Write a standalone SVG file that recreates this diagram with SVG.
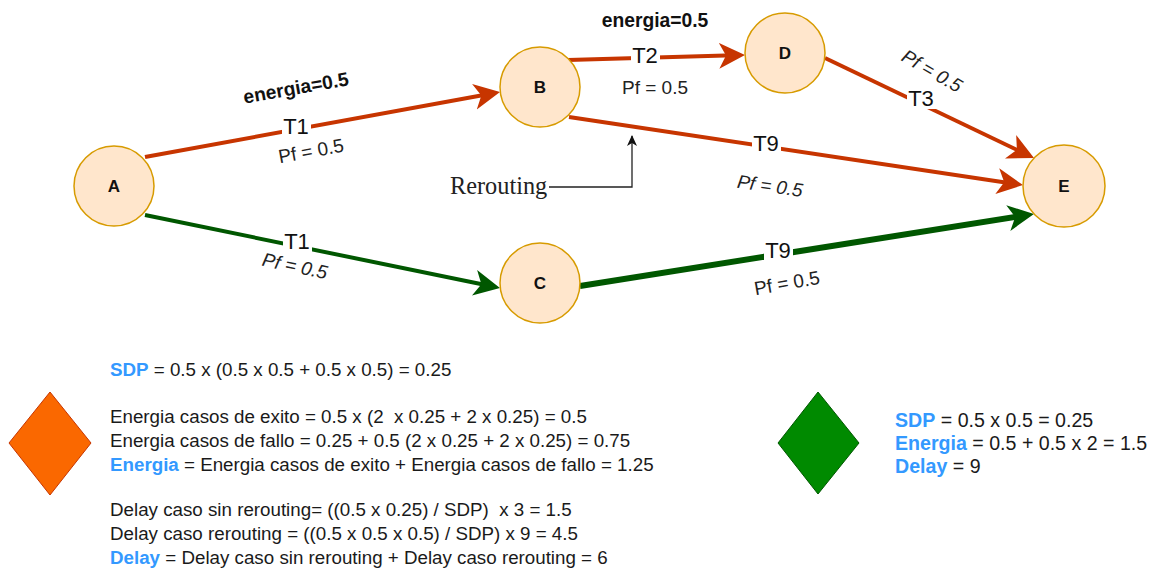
<svg xmlns="http://www.w3.org/2000/svg" width="1149" height="568" viewBox="0 0 1149 568">
<style>
.node{fill:#ffe6cc;stroke:#d79b00;stroke-width:1.5}
.nl{font-family:"Liberation Sans",Arial,sans-serif;font-weight:bold;font-size:17px;fill:#111;text-anchor:middle;dominant-baseline:central}
.red{fill:none;stroke:#c73500;stroke-width:4}
.grn{fill:none;stroke:#005700;stroke-width:4}
.grn2{fill:none;stroke:#005700;stroke-width:6}
.tl{font-family:"Liberation Sans",Arial,sans-serif;font-size:22px;fill:#111;text-anchor:middle;dominant-baseline:central}
.pf{font-family:"Liberation Sans",Arial,sans-serif;font-size:19px;fill:#222;text-anchor:middle;dominant-baseline:central}
.it{font-style:italic}
.en{font-family:"Liberation Sans",Arial,sans-serif;font-size:19.3px;font-weight:bold;fill:#111;text-anchor:middle;dominant-baseline:central}
.bt{font-family:"Liberation Sans",Arial,sans-serif;font-size:18.75px;fill:#1a1a1a;white-space:pre}
.bt2{font-family:"Liberation Sans",Arial,sans-serif;font-size:19.6px;fill:#1a1a1a;white-space:pre}
.bl{fill:#3399ff;font-weight:bold}
.bg{fill:#fff}
</style>
<defs>
<marker id="ar" markerUnits="userSpaceOnUse" markerWidth="27" markerHeight="28" viewBox="0 0 27 28" refX="15" refY="14" orient="auto">
<path d="M0,1 L26,14 L0,27 L7,14 Z" fill="#c73500"/>
</marker>
<marker id="ag" markerUnits="userSpaceOnUse" markerWidth="27" markerHeight="28" viewBox="0 0 27 28" refX="15" refY="14" orient="auto">
<path d="M0,1 L26,14 L0,27 L7,14 Z" fill="#005700"/>
</marker>
<marker id="ak" markerUnits="userSpaceOnUse" markerWidth="12" markerHeight="12" viewBox="0 0 12 12" refX="10" refY="6" orient="auto">
<path d="M0,1 L11,6 L0,11 L3,6 Z" fill="#111"/>
</marker>
</defs>

<g id="connectors">
<line class="red" x1="145" y1="157" x2="489.2" y2="94" marker-end="url(#ar)"/>
<line class="red" x1="568" y1="60" x2="734" y2="55.3" marker-end="url(#ar)"/>
<line class="red" x1="825" y1="58" x2="1024.1" y2="153.3" marker-end="url(#ar)"/>
<line class="red" x1="569" y1="117" x2="1012.1" y2="183.4" marker-end="url(#ar)"/>
<line class="grn" x1="145" y1="215" x2="489.2" y2="285.8" marker-end="url(#ag)"/>
<line class="grn2" x1="580" y1="286" x2="1023.1" y2="215.7" marker-end="url(#ag)"/>
<polyline points="549,187 632,187 632,136" fill="none" stroke="#222" stroke-width="1.3" marker-end="url(#ak)"/>

<rect class="bg" x="282" y="115" width="29" height="22"/>
<text class="tl" x="296" y="126">T1</text>
<text class="pf" transform="translate(311,151) rotate(-10.4)">Pf = 0.5</text>
<text class="en" transform="translate(296,88) rotate(-10)">energia=0.5</text>

<rect class="bg" x="631" y="44" width="29" height="22"/>
<text class="tl" x="645" y="55">T2</text>
<text class="pf" x="655" y="87">Pf = 0.5</text>
<text class="en" x="655" y="20">energia=0.5</text>

<rect class="bg" x="907" y="87" width="29" height="22"/>
<text class="tl" x="921" y="98">T3</text>
<text class="pf it" transform="translate(932,71) rotate(30)">Pf = 0.5</text>

<rect class="bg" x="752" y="132" width="29" height="22"/>
<text class="tl" x="766" y="143">T9</text>
<text class="pf it" transform="translate(770,186) rotate(8)">Pf = 0.5</text>

<rect class="bg" x="283" y="230" width="29" height="22"/>
<text class="tl" x="297" y="241">T1</text>
<text class="pf it" transform="translate(295,266) rotate(12)">Pf = 0.5</text>

<rect class="bg" x="764" y="239" width="29" height="22"/>
<text class="tl" x="778" y="250">T9</text>
<text class="pf" transform="translate(787,283) rotate(-10)">Pf = 0.5</text>

<text x="450" y="194" font-family="'Liberation Serif','Times New Roman',serif" font-size="24.3px" fill="#222">Rerouting</text>
</g>

<g id="node-A"><circle class="node" cx="114" cy="186" r="40"/><text class="nl" x="114" y="186">A</text></g>
<g id="node-B"><circle class="node" cx="540" cy="87" r="40"/><text class="nl" x="540" y="87">B</text></g>
<g id="node-C"><circle class="node" cx="540" cy="283" r="40"/><text class="nl" x="540" y="283">C</text></g>
<g id="node-D"><circle class="node" cx="785" cy="53" r="40"/><text class="nl" x="785" y="53">D</text></g>
<g id="node-E"><circle class="node" cx="1064" cy="186" r="41"/><text class="nl" x="1064" y="186">E</text></g>

<g id="orange-diamond"><polygon points="50,392 91,443 50,495 9,443" fill="#fa6800" stroke="#c73500" stroke-width="1"/></g>
<g id="green-diamond"><polygon points="818,392 859,443 818,494 778,443" fill="#008a00" stroke="#005700" stroke-width="1"/></g>

<g id="left-text">
<text class="bt" x="110" y="376"><tspan class="bl">SDP</tspan> = 0.5 x (0.5 x 0.5 + 0.5 x 0.5) = 0.25</text>
<text class="bt" x="110" y="423">Energia casos de exito = 0.5 x (2  x 0.25 + 2 x 0.25) = 0.5</text>
<text class="bt" x="110" y="447">Energia casos de fallo = 0.25 + 0.5 (2 x 0.25 + 2 x 0.25) = 0.75</text>
<text class="bt" x="110" y="471"><tspan class="bl">Energia</tspan> = Energia casos de exito + Energia casos de fallo = 1.25</text>
<text class="bt" x="110" y="516">Delay caso sin rerouting= ((0.5 x 0.25) / SDP)  x 3 = 1.5</text>
<text class="bt" x="110" y="540">Delay caso rerouting = ((0.5 x 0.5 x 0.5) / SDP) x 9 = 4.5</text>
<text class="bt" x="110" y="564"><tspan class="bl">Delay</tspan> = Delay caso sin rerouting + Delay caso rerouting = 6</text>
</g>
<g id="right-text">
<text class="bt2" x="895" y="427"><tspan class="bl">SDP</tspan> = 0.5 x 0.5 = 0.25</text>
<text class="bt2" x="895" y="450"><tspan class="bl">Energia</tspan> = 0.5 + 0.5 x 2 = 1.5</text>
<text class="bt2" x="895" y="473"><tspan class="bl">Delay</tspan> = 9</text>
</g>
</svg>
